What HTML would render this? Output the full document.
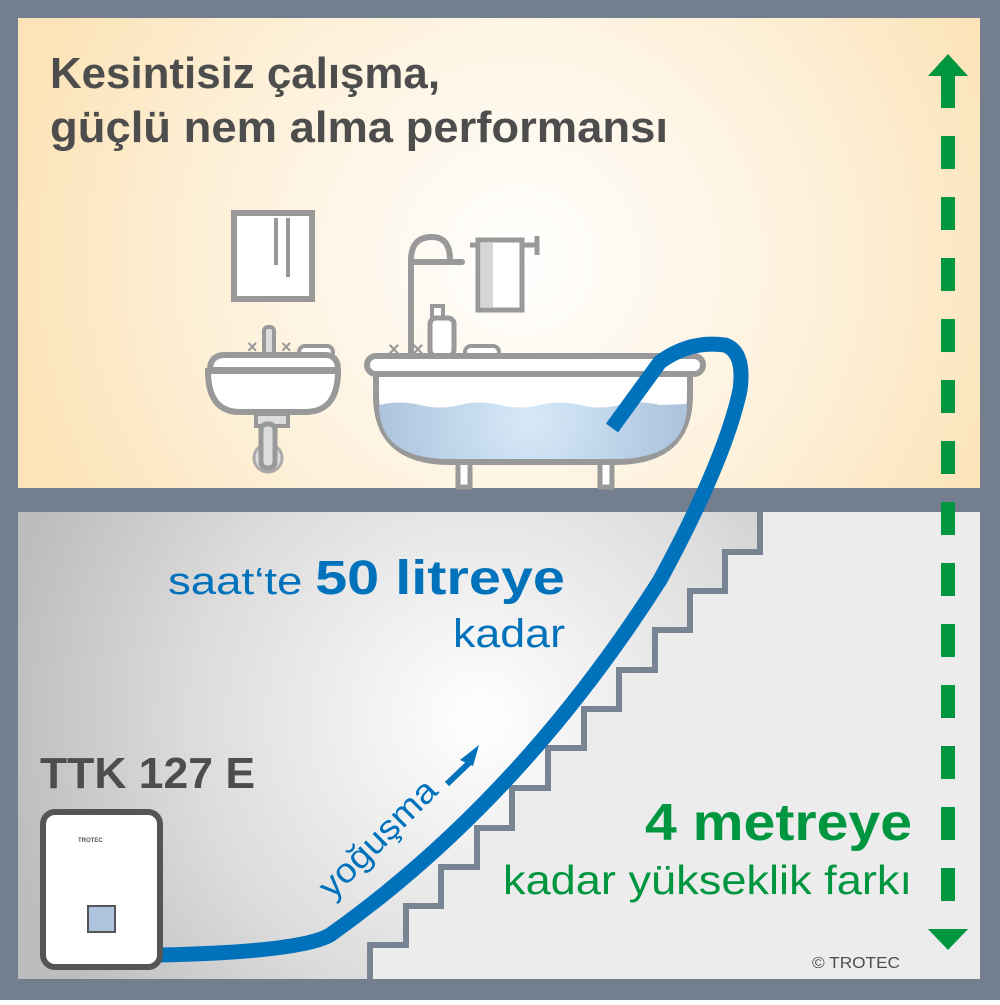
<!DOCTYPE html>
<html><head><meta charset="utf-8"><style>
html,body{margin:0;padding:0;}
body{width:1000px;height:1000px;overflow:hidden;font-family:"Liberation Sans",sans-serif;}
</style></head><body>
<svg width="1000" height="1000" viewBox="0 0 1000 1000" xmlns="http://www.w3.org/2000/svg">
<defs>
<radialGradient id="top" cx="520" cy="260" r="520" gradientUnits="userSpaceOnUse">
<stop offset="0" stop-color="#ffffff"/><stop offset="0.6" stop-color="#fdf0d8"/><stop offset="1" stop-color="#fce3b8"/>
</radialGradient>
<radialGradient id="bot" cx="480" cy="720" r="480" gradientUnits="userSpaceOnUse">
<stop offset="0" stop-color="#ffffff"/><stop offset="0.6" stop-color="#dcdcdc"/><stop offset="1" stop-color="#bdbdbd"/>
</radialGradient>
<radialGradient id="water" cx="530" cy="420" r="150" gradientUnits="userSpaceOnUse">
<stop offset="0" stop-color="#d6eaf8"/><stop offset="1" stop-color="#aec4de"/>
</radialGradient>
</defs>
<rect width="1000" height="1000" fill="#737f8f"/>
<rect x="18" y="18" width="962" height="470" fill="url(#top)"/>
<rect x="18" y="512" width="962" height="467" fill="url(#bot)"/>
<path d="M760,512 V552 H725 V591 H690 V630 H655 V670 H619 V709 H584 V748 H548 V788 H512 V828 H477 V867 H441 V906 H406 V945 H370 V979 H980 V512 Z" fill="#ececec"/>
<path d="M760,512 V552 H725 V591 H690 V630 H655 V670 H619 V709 H584 V748 H548 V788 H512 V828 H477 V867 H441 V906 H406 V945 H370 V979" fill="none" stroke="#778494" stroke-width="6"/>
<rect x="234" y="213" width="78" height="86" fill="#fff" stroke="#999" stroke-width="6"/>
<line x1="276" y1="218" x2="276" y2="265" stroke="#999" stroke-width="4"/>
<line x1="288" y1="218" x2="288" y2="277" stroke="#999" stroke-width="4"/>
<rect x="264" y="327" width="10" height="28" rx="4" fill="#ddd" stroke="#999" stroke-width="4"/>
<text x="247" y="353" font-size="18" font-weight="bold" fill="#999">×</text>
<text x="281" y="353" font-size="18" font-weight="bold" fill="#999">×</text>
<rect x="299" y="346" width="34" height="12" rx="6" fill="#fff" stroke="#999" stroke-width="4"/>
<path d="M208,371 Q208,412 240,412 L305,412 Q338,412 338,371 Z" fill="#fff" stroke="#999" stroke-width="6"/>
<path d="M210,370 Q210,355 225,355 L325,355 Q338,355 338,370 Z" fill="#fff" stroke="#999" stroke-width="6"/>
<rect x="256" y="414" width="32" height="12" fill="#ddd" stroke="#999" stroke-width="4"/>
<circle cx="268" cy="458" r="14" fill="#ddd" stroke="#aaa" stroke-width="3"/>
<rect x="261" y="424" width="14" height="44" rx="6" fill="#ddd" stroke="#999" stroke-width="5"/>
<path d="M411,355 V260 Q411,237 432,237 Q450,237 450,260" fill="none" stroke="#999" stroke-width="6"/>
<line x1="415" y1="262" x2="462" y2="262" stroke="#999" stroke-width="6" stroke-linecap="round"/>
<line x1="470" y1="245" x2="538" y2="245" stroke="#999" stroke-width="5"/>
<line x1="537" y1="236" x2="537" y2="255" stroke="#999" stroke-width="5"/>
<rect x="478" y="240" width="44" height="70" fill="#fff" stroke="#999" stroke-width="5"/>
<rect x="481" y="243" width="12" height="64" fill="#d6d6d6"/>
<rect x="432" y="306" width="11" height="14" fill="#fff" stroke="#999" stroke-width="4"/>
<rect x="430" y="318" width="24" height="38" rx="6" fill="#fff" stroke="#999" stroke-width="5"/>
<text x="388" y="356" font-size="20" font-weight="bold" fill="#999">×</text>
<text x="412" y="356" font-size="20" font-weight="bold" fill="#999">×</text>
<rect x="465" y="346" width="34" height="12" rx="6" fill="#fff" stroke="#999" stroke-width="4"/>
<rect x="458" y="455" width="12" height="32" fill="#fff" stroke="#999" stroke-width="5"/>
<rect x="600" y="455" width="12" height="32" fill="#fff" stroke="#999" stroke-width="5"/>
<path d="M376,370 V395 Q376,462 450,462 H615 Q690,462 690,395 V370 Z" fill="#fff" stroke="#999" stroke-width="6"/>
<path d="M379,405 Q400,400 420,405 T460,405 T500,405 T540,405 T580,405 T620,405 T660,405 L687,404 Q687,459 615,459 H450 Q379,459 379,405 Z" fill="url(#water)"/>
<rect x="367" y="356" width="336" height="18" rx="9" fill="#fff" stroke="#999" stroke-width="6"/>
<path d="M612,428 L660,362 Q690,340 725,345 Q745,352 740,390 Q725,460 660,580 Q520,800 330,935 Q300,952 160,955" fill="none" stroke="#0072bc" stroke-width="15"/>
<rect x="43" y="812" width="117" height="155" rx="12" fill="#fff" stroke="#555" stroke-width="6"/>
<text x="78" y="842" font-size="6" font-weight="bold" fill="#555">TROTEC</text>
<rect x="88" y="906" width="27" height="26" fill="#aec4de" stroke="#555" stroke-width="2"/>
<line x1="948" y1="75" x2="948" y2="930" stroke="#009640" stroke-width="14" stroke-dasharray="33 28"/>
<path d="M928,76 L948,54 L968,76 Z" fill="#009640"/>
<path d="M928,929 L948,950 L968,929 Z" fill="#009640"/>
<text x="50" y="88" font-size="44" font-weight="bold" fill="#4d4d4d" textLength="390" lengthAdjust="spacingAndGlyphs">Kesintisiz çalışma,</text>
<text x="50" y="142" font-size="44" font-weight="bold" fill="#4d4d4d" textLength="618" lengthAdjust="spacingAndGlyphs">güçlü nem alma performansı</text>
<text x="168" y="594" font-size="38" fill="#0072bc" textLength="397" lengthAdjust="spacingAndGlyphs">saat‘te <tspan font-weight="bold" font-size="48">50 litreye</tspan></text>
<text x="453" y="647" font-size="40" fill="#0072bc" textLength="112" lengthAdjust="spacingAndGlyphs">kadar</text>
<text x="40" y="788" font-size="44" font-weight="bold" fill="#4d4d4d" textLength="215" lengthAdjust="spacingAndGlyphs">TTK 127 E</text>
<text x="645" y="840" font-size="52" font-weight="bold" fill="#009640" textLength="267" lengthAdjust="spacingAndGlyphs">4 metreye</text>
<text x="503" y="894" font-size="41" fill="#009640" textLength="409" lengthAdjust="spacingAndGlyphs">kadar yükseklik farkı</text>
<text x="812" y="968" font-size="16" fill="#4d4d4d" textLength="88" lengthAdjust="spacingAndGlyphs">© TROTEC</text>
<text transform="translate(332,900) rotate(-45)" font-size="34" fill="#0072bc" textLength="152" lengthAdjust="spacingAndGlyphs">yoğuşma</text>
<path d="M447,784 L470,762" stroke="#0072bc" stroke-width="6"/>
<path d="M460,760 L479,745 L473,766 Z" fill="#0072bc"/>
</svg>
</body></html>
